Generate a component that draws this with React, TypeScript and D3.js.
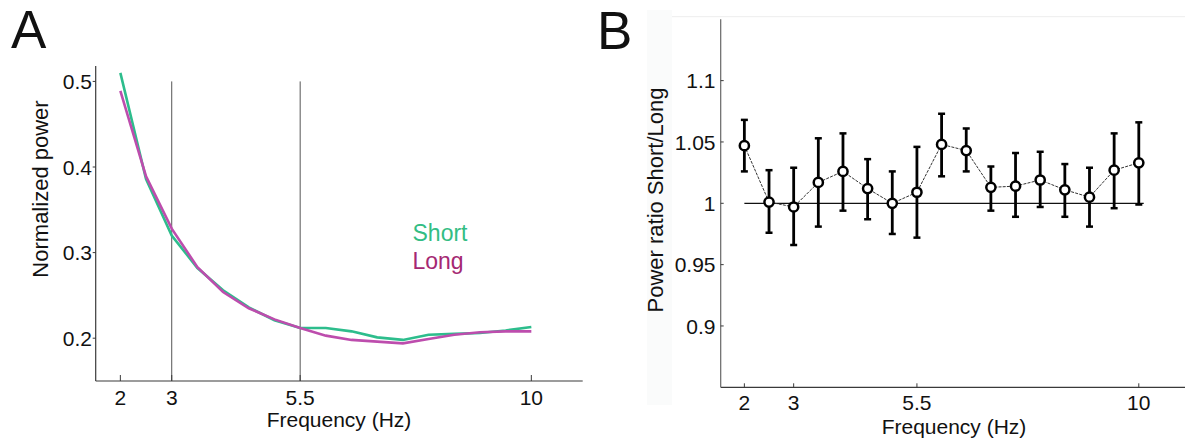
import React from 'react';
import * as d3 from 'd3';

// frequencies sampled every 0.5 Hz
const freqs = [2, 2.5, 3, 3.5, 4, 4.5, 5, 5.5, 6, 6.5, 7, 7.5, 8, 8.5, 9, 9.5, 10];

// Panel A: normalized power
const shortPower = [0.510, 0.386, 0.320, 0.282, 0.256, 0.236, 0.221, 0.212, 0.212, 0.208, 0.201, 0.198, 0.204, 0.205, 0.206, 0.209, 0.213];
const longPower = [0.489, 0.389, 0.328, 0.283, 0.254, 0.235, 0.222, 0.212, 0.203, 0.198, 0.196, 0.194, 0.199, 0.204, 0.207, 0.208, 0.208];

// Panel B: power ratio short/long with error bars
const ratioMean = [1.047, 1.001, 0.997, 1.017, 1.026, 1.012, 1.0, 1.009, 1.048, 1.043, 1.013, 1.014, 1.019, 1.011, 1.005, 1.027, 1.033];
const ratioUpper = [1.068, 1.027, 1.029, 1.053, 1.057, 1.036, 1.026, 1.046, 1.073, 1.061, 1.030, 1.041, 1.042, 1.032, 1.029, 1.057, 1.066];
const ratioLower = [1.026, 0.976, 0.966, 0.981, 0.994, 0.987, 0.975, 0.972, 1.022, 1.026, 0.994, 0.989, 0.997, 0.989, 0.981, 0.996, 0.999];

const xTicks = [2, 3, 5.5, 10];
const powerTicks = [0.2, 0.3, 0.4, 0.5];
const ratioTicks = [0.9, 0.95, 1, 1.05, 1.1];
const markerFreqs = [3, 5.5];

const FONT = '"Liberation Sans", Arial, Helvetica, sans-serif';
const SHORT_COLOR = '#2dbd8c';
const LONG_COLOR = '#bd4dad';
const AXIS = '#3a3a3a';

const PanelA = () => {
  const x = d3.scaleLinear().domain([1.52, 11]).range([95.7, 582.7]);
  const y = d3.scaleLinear().domain([0.15, 0.518]).range([381, 66]);
  const line = d3.line<number>()
    .x((_, i) => x(freqs[i]))
    .y(d => y(d));

  return (
    <g>
      <text x={11} y={48} fontSize={53} fill="#111">A</text>

      {/* frequency band markers */}
      {markerFreqs.map(f => (
        <line key={f} x1={x(f)} x2={x(f)} y1={y(0.5)} y2={y(0.15)} stroke="#555" strokeWidth={1} />
      ))}

      {/* axes */}
      <line x1={x(1.52)} x2={x(11)} y1={y(0.15)} y2={y(0.15)} stroke={AXIS} strokeWidth={1.2} />
      <line x1={x(1.52)} x2={x(1.52)} y1={y(0.15)} y2={y(0.518)} stroke={AXIS} strokeWidth={1.2} />

      {xTicks.map(t => (
        <g key={t}>
          <line x1={x(t)} x2={x(t)} y1={y(0.15)} y2={y(0.15) - 6} stroke={AXIS} strokeWidth={1} />
          <text x={x(t)} y={405} textAnchor="middle" fontSize={21} fill="#111">{String(t)}</text>
        </g>
      ))}
      {powerTicks.map(t => (
        <g key={t}>
          <line x1={x(1.52) - 3} x2={x(1.52)} y1={y(t)} y2={y(t)} stroke={AXIS} strokeWidth={1} />
          <text x={92} y={y(t)} dy="0.36em" textAnchor="end" fontSize={21} fill="#111">{String(t)}</text>
        </g>
      ))}

      <path d={line(shortPower) || ''} fill="none" stroke={SHORT_COLOR} strokeWidth={2.6} />
      <path d={line(longPower) || ''} fill="none" stroke={LONG_COLOR} strokeWidth={2.6} />

      <text x={412.5} y={241} fontSize={23} fill="#33bd84">Short</text>
      <text x={412.5} y={269} fontSize={23} fill="#a52872">Long</text>

      <text x={339} y={427} textAnchor="middle" fontSize={21} fill="#111">Frequency (Hz)</text>
      <text transform="translate(48,189) rotate(-90)" textAnchor="middle" fontSize={22} fill="#111">Normalized power</text>
    </g>
  );
};

const PanelB = () => {
  const x = d3.scaleLinear().domain([1.52, 11]).range([720.7, 1188.1]);
  const y = d3.scaleLinear().domain([0.85, 1.15]).range([387.3, 19.3]);
  const line = d3.line<number>()
    .x((_, i) => x(freqs[i]))
    .y(d => y(d));

  return (
    <g>
      {/* faint scan artefacts around the panel */}
      <rect x={647} y={10} width={25} height={395} fill="#fafbfb" />
      <line x1={672} x2={1185} y1={16.7} y2={16.7} stroke="#ededed" strokeWidth={1} />

      <text x={597} y={49} fontSize={53} fill="#111">B</text>

      {/* axes */}
      <line x1={x(1.52)} x2={x(11)} y1={y(0.85)} y2={y(0.85)} stroke={AXIS} strokeWidth={1.2} />
      <line x1={x(1.52)} x2={x(1.52)} y1={y(0.85)} y2={y(1.15)} stroke="#666" strokeWidth={1.2} />

      {xTicks.map(t => (
        <g key={t}>
          <line x1={x(t)} x2={x(t)} y1={y(0.85)} y2={y(0.85) - 4} stroke={AXIS} strokeWidth={1} />
          <text x={x(t)} y={410} textAnchor="middle" fontSize={21} fill="#111">{String(t)}</text>
        </g>
      ))}
      {ratioTicks.map(t => (
        <g key={t}>
          <line x1={x(1.52)} x2={x(1.52) + 3} y1={y(t)} y2={y(t)} stroke={AXIS} strokeWidth={1} />
          <text x={715.5} y={y(t)} dy="0.36em" textAnchor="end" fontSize={21} fill="#111">{String(t)}</text>
        </g>
      ))}

      {/* reference at ratio 1 */}
      <line x1={x(2)} x2={x(10.1)} y1={y(1)} y2={y(1)} stroke="#111" strokeWidth={1.2} />

      <path d={line(ratioMean) || ''} fill="none" stroke="#333" strokeWidth={1} strokeDasharray="3,1.2" />

      {freqs.map((f, i) => (
        <g key={f}>
          <line x1={x(f)} x2={x(f)} y1={y(ratioLower[i])} y2={y(ratioUpper[i])} stroke="#000" strokeWidth={2.8} />
          <line x1={x(f) - 3.5} x2={x(f) + 3.5} y1={y(ratioLower[i])} y2={y(ratioLower[i])} stroke="#000" strokeWidth={2.5} />
          <line x1={x(f) - 3.5} x2={x(f) + 3.5} y1={y(ratioUpper[i])} y2={y(ratioUpper[i])} stroke="#000" strokeWidth={2.5} />
          <circle cx={x(f)} cy={y(ratioMean[i])} r={4.6} fill="#fff" stroke="#000" strokeWidth={2.5} />
        </g>
      ))}

      <text x={954} y={434} textAnchor="middle" fontSize={21} fill="#111">Frequency (Hz)</text>
      <text transform="translate(663,200) rotate(-90)" textAnchor="middle" fontSize={22} fill="#111">Power ratio Short/Long</text>
    </g>
  );
};

export default function App() {
  return (
    <svg
      width={1185}
      height={443}
      style={{ position: 'absolute', left: 0, top: 0, background: '#fff' }}
      fontFamily={FONT}
    >
      <rect width={1185} height={443} fill="#fff" />
      <PanelA />
      <PanelB />
    </svg>
  );
}
